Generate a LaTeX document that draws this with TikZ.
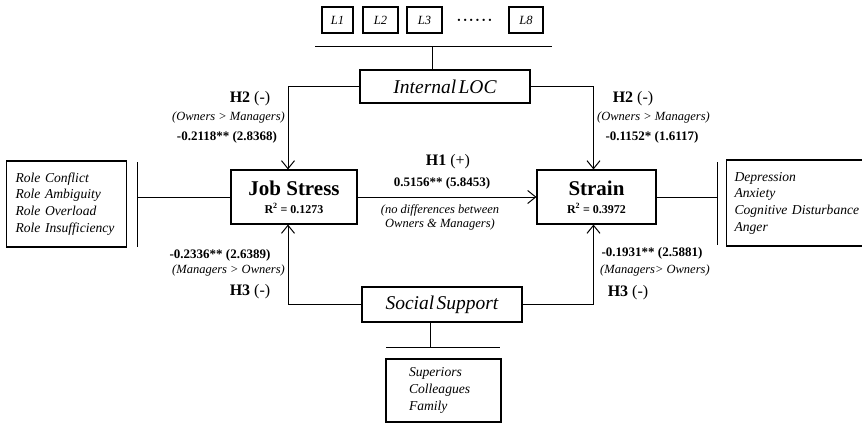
\documentclass[tikz,border=0pt]{standalone}
\usepackage{fontspec}
\setmainfont{Liberation Serif}
\usetikzlibrary{arrows.meta}
\tikzset{
  box/.style={draw, line width=1.1pt, inner sep=0pt},
  lbox/.style={box, minimum height=26pt, font=\fontsize{12.5}{14}\selectfont\itshape},
  conn/.style={line width=1pt},
  arr/.style={conn, -{Straight Barb[length=8pt,width=13pt,line width=1pt]}},
  hlab/.style={font=\fontsize{16}{18}\selectfont, inner sep=0pt},
  vlab/.style={font=\fontsize{13}{15}\selectfont\bfseries, inner sep=0pt},
  ilab/.style={font=\fontsize{12.5}{14.5}\selectfont\itshape, inner sep=0pt},
  listbox/.style={box, align=left, font=\fontsize{13.6}{16.7}\selectfont\itshape},
}
\begin{document}
\begin{tikzpicture}[x=1pt,y=-1pt]
\useasboundingbox (0,0) rectangle (862,423);
% top indicators
\node[lbox, minimum width=31pt] (l1) at (337.5,20) {L1};
\node[lbox, minimum width=35pt] (l2) at (380.5,20) {L2};
\node[lbox, minimum width=35pt] (l3) at (424.5,20) {L3};
\node[inner sep=0pt, font=\fontsize{9.5}{9.5}\selectfont] (dots) at (474.5,21) {•\hspace{2.9pt}•\hspace{2.9pt}•\hspace{2.9pt}•\hspace{2.9pt}•\hspace{2.9pt}•};
\node[lbox, minimum width=34pt] (l8) at (526,20) {L8};
\coordinate (tl) at (315,46);
\coordinate (tr) at (552,46);
\coordinate (tm) at (432,46);
\draw[conn] (tl) -- (tr);
% constructs
\node[box, minimum width=170pt, minimum height=33pt, font=\fontsize{19.5}{21}\selectfont\itshape] (loc) at (445,86.5) {Internal\hspace{0.12em}LOC};
\draw[conn] (tm) -- (tm |- loc.north);
\node[box, minimum width=126pt, minimum height=54pt, align=center] (js) at (294,197)
  {{\fontsize{21}{22}\selectfont\bfseries Job Stress}\\[6pt]{\fontsize{12}{13}\selectfont\bfseries R\textsuperscript{2} = 0.1273}};
\node[box, minimum width=119pt, minimum height=54pt, align=center] (st) at (596.5,197)
  {{\fontsize{21}{22}\selectfont\bfseries Strain}\\[6pt]{\fontsize{12}{13}\selectfont\bfseries R\textsuperscript{2} = 0.3972}};
\node[box, minimum width=160pt, minimum height=35pt, font=\fontsize{19.5}{21}\selectfont\itshape] (ss) at (442,304.5) {Social\hspace{0.12em}Support};
% list boxes
\node[listbox, anchor=west, minimum height=86pt, text width=102pt, inner xsep=9pt] (role) at (6,204)
  {Role Conflict\\Role Ambiguity\\Role Overload\\Role Insufficiency};
\node[listbox, anchor=west, minimum height=86pt, text width=140pt, inner xsep=8pt] (dep) at (726,203)
  {Depression\\Anxiety\\Cognitive Disturbance\\Anger};
\node[listbox, minimum width=115pt, minimum height=63pt, text width=69pt, inner xsep=23pt] (sup) at (443.5,390.5)
  {Superiors\\Colleagues\\Family};
% bars
\coordinate (lb1) at (137,162);
\coordinate (lb2) at (137,247);
\draw[conn] (lb1) -- (lb2);
\draw[conn] (js.west) -- (js.west -| lb1);
\coordinate (rb1) at (717,162);
\coordinate (rb2) at (717,245);
\draw[conn] (rb1) -- (rb2);
\draw[conn] (st.east) -- (st.east -| rb1);
\coordinate (bl) at (386,347);
\coordinate (br) at (500,347);
\draw[conn] (bl) -- (br);
\draw[conn] ([xshift=-12pt]ss.south) -- ([xshift=-12pt]ss.south |- bl);
% arrows
\draw[arr] (loc.west) -| ([xshift=-6pt]js.north);
\draw[arr] (loc.east) -| ([xshift=-3pt]st.north);
\draw[arr] (js.east) -- (st.west);
\draw[arr] (ss.west) -| ([xshift=-6pt]js.south);
\draw[arr] (ss.east) -| ([xshift=-3pt]st.south);
% labels
\node[hlab] (h2a) at (250,99) {\textbf{H2} (-)};
\node[ilab, anchor=east] (h2ai) at (285,117) {(Owners > Managers)};
\node[vlab] (h2av) at (227,137) {-0.2118** (2.8368)};
\node[hlab] (h2b) at (633,99) {\textbf{H2} (-)};
\node[ilab, anchor=west] (h2bi) at (597,117) {(Owners > Managers)};
\node[vlab] (h2bv) at (652,137) {-0.1152* (1.6117)};
\node[hlab] (h1) at (448,162) {\textbf{H1} (+)};
\node[vlab] (h1v) at (442,183) {0.5156** (5.8453)};
\node[ilab, align=center] (h1i) at (440,217.5) {(no differences between\\Owners \& Managers)};
\node[vlab] (h3av) at (220,255) {-0.2336** (2.6389)};
\node[ilab, anchor=east] (h3ai) at (285,270) {(Managers > Owners)};
\node[hlab] (h3a) at (250,292) {\textbf{H3} (-)};
\node[vlab] (h3bv) at (652,253) {-0.1931** (2.5881)};
\node[ilab, anchor=west] (h3bi) at (600,270) {(Managers> Owners)};
\node[hlab] (h3b) at (628,293) {\textbf{H3} (-)};
\end{tikzpicture}
\end{document}
